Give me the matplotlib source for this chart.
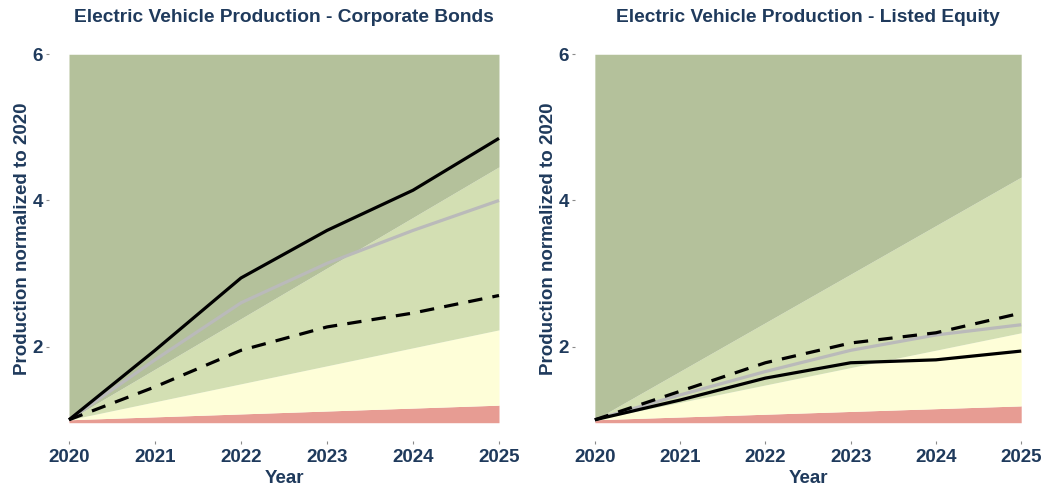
import matplotlib
matplotlib.use("Agg")
import matplotlib.pyplot as plt

plt.rcParams["font.family"] = ["Liberation Sans", "DejaVu Sans"]
plt.rcParams["font.weight"] = "bold"

years = [2020, 2021, 2022, 2023, 2024, 2025]
band_years = [2020, 2025]

titles = [
    "Electric Vehicle Production - Corporate Bonds",
    "Electric Vehicle Production - Listed Equity",
]

# scenario band upper edges (start / end year)
red_top = [[1.0, 1.20], [1.0, 1.19]]
yellow_top = [[1.0, 2.23], [1.0, 2.19]]
light_top = [[1.0, 4.46], [1.0, 4.32]]
dark_top = [[6.0, 6.0], [6.0, 6.0]]
band_floor = 0.96

# portfolio / benchmark trajectories
portfolio = [
    [1.0, 1.95, 2.94, 3.59, 4.14, 4.85],
    [1.0, 1.27, 1.57, 1.78, 1.82, 1.94],
]
benchmark = [
    [1.0, 1.82, 2.60, 3.14, 3.59, 4.00],
    [1.0, 1.34, 1.66, 1.95, 2.16, 2.30],
]
scenario = [
    [1.0, 1.45, 1.95, 2.27, 2.46, 2.70],
    [1.0, 1.39, 1.78, 2.05, 2.19, 2.46],
]

text_col = "#1f3a5c"
colors = {"red": "#e79c93", "yellow": "#fefed8", "light": "#d3dfb3", "dark": "#b4c19b"}

fig = plt.figure(figsize=(10.47, 4.87), dpi=100)
axes = [
    fig.add_axes([0.0468, 0.0945, 0.4489, 0.8316]),
    fig.add_axes([0.5492, 0.0945, 0.4451, 0.8316]),
]

for i, ax in enumerate(axes):
    lower = [band_floor, band_floor]
    ax.fill_between(band_years, lower, red_top[i], color=colors["red"], lw=0)
    ax.fill_between(band_years, red_top[i], yellow_top[i], color=colors["yellow"], lw=0)
    ax.fill_between(band_years, yellow_top[i], light_top[i], color=colors["light"], lw=0)
    ax.fill_between(band_years, light_top[i], dark_top[i], color=colors["dark"], lw=0)

    ax.plot(years, benchmark[i], color="#bababa", lw=2.3, solid_capstyle="butt")
    ax.plot(years, scenario[i], color="black", lw=2.3, dashes=(4.5, 3.2),
            dash_capstyle="butt")
    ax.plot(years, portfolio[i], color="black", lw=2.3, solid_capstyle="butt")

    ax.set_xlim(2020 - 20 / 86, 2025 + 20 / 86)
    ax.set_ylim(0.71, 6.25)
    ax.set_xticks(years)
    ax.set_yticks([2, 4, 6])
    for s in ax.spines.values():
        s.set_visible(False)
    ax.tick_params(axis="both", length=2.5, width=0.8, color="#8a8a8a",
                   labelsize=13.5, labelcolor=text_col)
    ax.tick_params(axis="x", pad=3)
    ax.tick_params(axis="y", pad=2)
    for lab in ax.get_xticklabels() + ax.get_yticklabels():
        lab.set_fontweight("bold")

    ax.set_xlabel("Year", fontsize=13.5, fontweight="bold", color=text_col, labelpad=3)
    ax.set_ylabel("Production normalized to 2020", fontsize=13.5, fontweight="bold",
                  color=text_col, labelpad=1)
    ax.text(0.5, 1.045, titles[i], transform=ax.transAxes, ha="center", va="center",
            fontsize=13.8, fontweight="bold", color=text_col)

fig.savefig("out.png", dpi=100)
